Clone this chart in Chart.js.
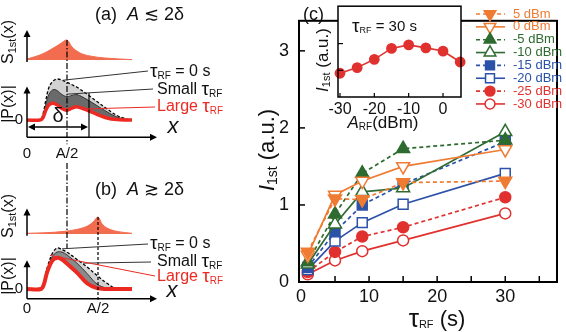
<!DOCTYPE html>
<html>
<head>
<meta charset="utf-8">
<script src="https://cdn.jsdelivr.net/npm/chart.js@4.4.1/dist/chart.umd.min.js"></script>
<style>
  html, body { margin: 0; padding: 0; background: #fff; }
  #wrap { position: relative; width: 566px; height: 332px; overflow: hidden; }
  canvas { position: absolute; }
</style>
</head>
<body>
<div id="wrap">
  <canvas id="left" width="230" height="332" style="left:0;top:0"></canvas>
  <canvas id="main" width="336" height="332" style="left:230px;top:0"></canvas>
  <canvas id="inset" width="170" height="135" style="left:300px;top:0"></canvas>
</div>
<script>
// ---- panel (c) data ----
const tauRF = [1, 5, 9, 15, 30];
const powerLabels = ['5 dBm', '0 dBm', '-5 dBm', '-10 dBm', '-15 dBm', '-20 dBm', '-25 dBm', '-30 dBm'];
const i5dBm   = [0.39, 1.08, 1.07, 1.29, 1.31];
const i0dBm   = [0.35, 1.13, 1.31, 1.50, 1.72];
const im5dBm  = [0.26, 0.88, 1.41, 1.73, 1.84];
const im10dBm = [0.23, 0.75, 1.17, 1.22, 1.95];
const im15dBm = [0.19, 0.65, 1.00, 1.27, 1.82];
const im20dBm = [0.16, 0.53, 0.77, 1.01, 1.41];
const im25dBm = [0.13, 0.39, 0.59, 0.71, 1.10];
const im30dBm = [0.10, 0.28, 0.40, 0.54, 0.89];
const seriesValues = [i5dBm, i0dBm, im5dBm, im10dBm, im15dBm, im20dBm, im25dBm, im30dBm];
const xTickValues = [0, 10, 20, 30];
const yTickValues = [0, 1, 2, 3];

// inset: I1st at tauRF = 30 s versus RF power
const aRF = [-30, -25, -20, -15, -10, -5, 0, 5];
const insetTickValues = [-30, -20, -10, 0];
const insetValues = aRF.map((a, i) => seriesValues[seriesValues.length - 1 - i][tauRF.length - 1]);

// ---- schematic (a): A <~ 2 delta ----
const halfA_a = 4, delta_a = 6.2;
const sX_a   = [0, 1.3, 2.3, 3.3, 4, 4.5, 5.3, 6.3, 7.8, 10.5];
const s1st_a = [0.05, 0.25, 0.5, 0.8, 1, 0.65, 0.35, 0.2, 0.1, 0.02];
const pX_a    = [0, 1.3, 1.6, 1.9, 2.2, 2.6, 3.0, 3.5, 4.0, 4.5, 5.0, 6.0, 7.0, 8.0, 9.0, 10.0, 10.5];
const tau0_a  = [0, 0, 0.15, 0.5, 0.8, 0.95, 1.0, 0.97, 0.92, 0.86, 0.8, 0.63, 0.45, 0.27, 0.11, 0.02, 0];
const small_a = [0, 0, 0.1, 0.4, 0.63, 0.74, 0.72, 0.62, 0.57, 0.6, 0.62, 0.5, 0.35, 0.2, 0.07, 0.01, 0];
const large_a = [0, 0, 0.06, 0.25, 0.37, 0.41, 0.37, 0.28, 0.24, 0.29, 0.32, 0.24, 0.14, 0.05, 0.01, 0, 0];

// ---- schematic (b): A >~ 2 delta ----
const halfA_b = 7.1;
const sX_b   = [0, 2, 3.5, 5, 6, 6.6, 7.1, 7.5, 8, 9, 10.5];
const s1st_b = [0.04, 0.08, 0.14, 0.27, 0.45, 0.7, 1, 0.6, 0.35, 0.15, 0.04];
const pX_b    = [0, 1.4, 1.7, 2.0, 2.5, 3.0, 3.5, 4.0, 5.0, 6.0, 7.0, 8.0, 9.0, 10.5];
const tau0_b  = [0, 0, 0.2, 0.5, 0.85, 1.0, 0.96, 0.9, 0.72, 0.54, 0.33, 0.14, 0, 0];
const small_b = [0, 0, 0.15, 0.45, 0.78, 0.9, 0.9, 0.83, 0.63, 0.38, 0.12, 0.02, 0, 0];
const large_b = [0, 0, 0.12, 0.4, 0.68, 0.76, 0.72, 0.62, 0.4, 0.14, 0.02, 0, 0, 0];

// ---- styles ----
const FONT = '"Liberation Sans", Arial, Helvetica, sans-serif';
const ORANGE = '#ef7b33', GREEN = '#2e6b30', BLUE = '#2b51a9', RED = '#e1312f';
const SALMON = '#f26c50', PRED = '#ec2a22';
const seriesColor  = [ORANGE, ORANGE, GREEN, GREEN, BLUE, BLUE, RED, RED];
const seriesDashed = [true, false, true, false, true, false, true, false];
const seriesFilled = [true, false, true, false, true, false, true, false];
const seriesMarker = ['triangle', 'triangle', 'triangle', 'triangle', 'rect', 'rect', 'circle', 'circle'];
const seriesRot    = [180, 180, 0, 0, 0, 0, 0, 0];
const seriesRadius = [7.5, 7.5, 7.5, 7.5, 7, 7, 5.5, 5.5];

function f(size, style) { return (style ? style + ' ' : '') + size + 'px ' + FONT; }

// draws a run of text pieces (sub/superscripts) in one go
function rich(ctx, parts, x, y, align, rot, color) {
  ctx.save();
  ctx.translate(x, y);
  if (rot) ctx.rotate(rot);
  let w = 0;
  parts.forEach(p => { ctx.font = p.f; p.w = ctx.measureText(p.t).width; w += p.w; });
  let cx = align === 'center' ? -w / 2 : (align === 'right' ? -w : 0);
  ctx.textBaseline = 'middle';
  ctx.textAlign = 'left';
  parts.forEach(p => {
    ctx.font = p.f;
    ctx.fillStyle = p.c || color || '#111';
    ctx.fillText(p.t, cx, p.dy || 0);
    cx += p.w;
  });
  ctx.restore();
}

function line(ctx, x1, y1, x2, y2, color, width, dash) {
  ctx.save();
  ctx.strokeStyle = color; ctx.lineWidth = width;
  ctx.setLineDash(dash || []);
  ctx.beginPath(); ctx.moveTo(x1, y1); ctx.lineTo(x2, y2); ctx.stroke();
  ctx.restore();
}

function arrowHead(ctx, x, y, dir) {
  // dir: 'up' | 'right' | 'left'
  const L = 7, H = 3.5;
  ctx.save();
  ctx.fillStyle = '#000';
  ctx.beginPath();
  if (dir === 'up') { ctx.moveTo(x, y); ctx.lineTo(x - H, y + L); ctx.lineTo(x + H, y + L); }
  else if (dir === 'right') { ctx.moveTo(x, y); ctx.lineTo(x - L, y - H); ctx.lineTo(x - L, y + H); }
  else { ctx.moveTo(x, y); ctx.lineTo(x + L, y - H); ctx.lineTo(x + L, y + H); }
  ctx.closePath(); ctx.fill();
  ctx.restore();
}

// y range so that value 0 sits at zeroPx and value 1 is unitPx above it
function band(zeroPx, unitPx, h) {
  return { min: -(h - zeroPx) / unitPx, max: zeroPx / unitPx };
}

function pts(xs, ys) { return xs.map((x, i) => ({ x: x, y: ys[i] })); }

// ================= left schematic =================
const leftDecor = {
  id: 'leftDecor',
  afterDraw(chart) {
    const ctx = chart.ctx;
    const X = v => chart.scales.x.getPixelForValue(v);
    const Y = (id, v) => chart.scales[id].getPixelForValue(v);
    const x0 = X(0), xEnd = X(13);
    const tauSub = (size) => [{ t: 'τ', f: f(size + 3) }, { t: 'RF', f: f(size - 6), dy: 4 }];

    // ---- (a) ----
    rich(ctx, [{ t: '(a)  ', f: f(18) }, { t: 'A', f: f(18, 'italic') }, { t: ' ≲ 2δ', f: f(18) }], 95, 15, 'left');
    line(ctx, x0, Y('ySa', -0.1), x0, Y('ySa', 1.4), '#000', 1.5);
    arrowHead(ctx, x0, Y('ySa', 1.5), 'up');
    rich(ctx, [{ t: 'S', f: f(16) }, { t: '1st', f: f(11), dy: 4 }, { t: '(x)', f: f(16) }], 9, 42, 'center', -Math.PI / 2);

    const axA = Y('yPa', -0.42);
    line(ctx, x0, axA, x0, Y('yPa', 0.72), '#000', 1.5);
    arrowHead(ctx, x0, Y('yPa', 0.82), 'up');
    line(ctx, x0, axA, xEnd - 4, axA, '#000', 1.5);
    arrowHead(ctx, xEnd, axA, 'right');
    rich(ctx, [{ t: '|P(x)|', f: f(16) }], 9, 104, 'center', -Math.PI / 2);
    rich(ctx, [{ t: '0', f: f(15) }], 19, Y('yPa', 0), 'center');
    rich(ctx, [{ t: '0', f: f(15) }], x0, 154, 'center');
    rich(ctx, [{ t: 'A/2', f: f(15) }], X(halfA_a), 154, 'center');
    rich(ctx, [{ t: 'x', f: f(22, 'italic') }], 173, 127, 'center');

    // dash-dot line through A/2 of (a), running down into (b)
    line(ctx, X(halfA_a), Y('ySa', 1), X(halfA_a), axA + 7, '#000', 1.2, [6, 2, 1.5, 2]);
    line(ctx, X(halfA_a), 163, X(halfA_a), Y('yPb', 1), '#000', 1.2, [6, 2, 1.5, 2]);

    // delta marker
    line(ctx, X(delta_a), Y('yPa', 0.66), X(delta_a), axA, '#000', 1.2);
    const yd = Y('yPa', -0.17);
    line(ctx, x0 + 4, yd, X(delta_a) - 4, yd, '#000', 1.5);
    arrowHead(ctx, x0 + 1, yd, 'left');
    arrowHead(ctx, X(delta_a) - 1, yd, 'right');
    rich(ctx, [{ t: 'δ', f: f(20) }], (x0 + X(delta_a)) / 2, 116, 'center');

    // leader lines and labels
    line(ctx, X(3.6), Y('yPa', 0.97), 148, 71, '#333', 1);
    line(ctx, X(4.0), Y('yPa', 0.63), 153, 89, '#333', 1);
    line(ctx, X(5.8), Y('yPa', 0.27), 155, 107, PRED, 1);
    rich(ctx, tauSub(16).concat([{ t: ' = 0 s', f: f(16) }]), 150, 72, 'left');
    rich(ctx, [{ t: 'Small ', f: f(16) }].concat(tauSub(16)), 157, 90, 'left');
    rich(ctx, [{ t: 'Large ', f: f(16) }].concat(tauSub(16)), 157, 107, 'left', 0, PRED);

    // ---- (b) ----
    rich(ctx, [{ t: '(b)  ', f: f(18) }, { t: 'A', f: f(18, 'italic') }, { t: ' ≳ 2δ', f: f(18) }], 95, 190, 'left');
    line(ctx, x0, Y('ySb', -0.1), x0, Y('ySb', 1.4), '#000', 1.5);
    arrowHead(ctx, x0, Y('ySb', 1.5), 'up');
    rich(ctx, [{ t: 'S', f: f(16) }, { t: '1st', f: f(11), dy: 4 }, { t: '(x)', f: f(16) }], 9, 216, 'center', -Math.PI / 2);

    const axB = Y('yPb', -0.24);
    line(ctx, x0, axB, x0, Y('yPb', 0.6), '#000', 1.5);
    arrowHead(ctx, x0, Y('yPb', 0.7), 'up');
    line(ctx, x0, axB, xEnd - 4, axB, '#000', 1.5);
    arrowHead(ctx, xEnd, axB, 'right');
    rich(ctx, [{ t: '|P(x)|', f: f(16) }], 9, 276, 'center', -Math.PI / 2);
    rich(ctx, [{ t: '0', f: f(15) }], 19, Y('yPb', 0), 'center');
    rich(ctx, [{ t: '0', f: f(15) }], x0, 309, 'center');
    rich(ctx, [{ t: 'A/2', f: f(15) }], X(halfA_b), 309, 'center');
    rich(ctx, [{ t: 'x', f: f(22, 'italic') }], 172, 291, 'center');

    line(ctx, X(halfA_b), Y('ySb', 1), X(halfA_b), axB + 1, '#000', 1.2, [3, 2]);

    line(ctx, X(3.5), Y('yPb', 0.98), 148, 244, '#333', 1);
    line(ctx, X(5.6), Y('yPb', 0.63), 151, 262, '#333', 1);
    line(ctx, X(2.3), Y('yPb', 0.82), 155, 276, PRED, 1);
    rich(ctx, tauSub(16).concat([{ t: ' = 0 s', f: f(16) }]), 150, 244, 'left');
    rich(ctx, [{ t: 'Small ', f: f(16) }].concat(tauSub(16)), 157, 262, 'left');
    rich(ctx, [{ t: 'Large ', f: f(16) }].concat(tauSub(16)), 157, 277, 'left', 0, PRED);
  }
};

const H = 332;
new Chart(document.getElementById('left'), {
  type: 'line',
  data: {
    datasets: [
      { data: pts(sX_a, s1st_a), yAxisID: 'ySa', borderColor: SALMON, backgroundColor: SALMON, borderWidth: 1, fill: 'origin', order: 3 },
      { data: pts(pX_a, tau0_a), yAxisID: 'yPa', borderColor: '#000', borderWidth: 1.3, borderDash: [3, 2], backgroundColor: '#d2d2d2', fill: '+1', order: 2 },
      { data: pts(pX_a, small_a), yAxisID: 'yPa', borderColor: '#333', borderWidth: 1, backgroundColor: '#6a6a6a', fill: '+1', order: 1 },
      { data: pts(pX_a, large_a), yAxisID: 'yPa', borderColor: PRED, borderWidth: 3.5, fill: false, order: 0 },
      { data: pts(sX_b, s1st_b), yAxisID: 'ySb', borderColor: SALMON, backgroundColor: SALMON, borderWidth: 1, fill: 'origin', order: 3 },
      { data: pts(pX_b, tau0_b), yAxisID: 'yPb', borderColor: '#000', borderWidth: 1.3, borderDash: [3, 2], backgroundColor: '#d2d2d2', fill: '+1', order: 2 },
      { data: pts(pX_b, small_b), yAxisID: 'yPb', borderColor: '#333', borderWidth: 1, backgroundColor: '#8a8a8a', fill: '+1', order: 1 },
      { data: pts(pX_b, large_b), yAxisID: 'yPb', borderColor: PRED, borderWidth: 4, fill: false, order: 0 }
    ]
  },
  options: {
    responsive: false, animation: false, events: [],
    layout: { padding: { left: 27, right: 73, top: 0, bottom: 0 } },
    elements: { point: { radius: 0 }, line: { tension: 0.35, capBezierPoints: true } },
    plugins: { legend: { display: false }, tooltip: { enabled: false } },
    scales: {
      x: { type: 'linear', min: 0, max: 13, display: false },
      ySa: Object.assign({ type: 'linear', display: false }, band(60, 20, H)),
      yPa: Object.assign({ type: 'linear', display: false }, band(120, 41, H)),
      ySb: Object.assign({ type: 'linear', display: false }, band(234, 17, H)),
      yPb: Object.assign({ type: 'linear', display: false }, band(289, 41, H))
    }
  },
  plugins: [leftDecor]
});

// ================= panel (c) =================
const mainDecor = {
  id: 'mainDecor',
  afterDraw(chart) {
    const ctx = chart.ctx, a = chart.chartArea;
    const sx = chart.scales.x, sy = chart.scales.y;
    // frame
    ctx.save();
    ctx.strokeStyle = '#000'; ctx.lineWidth = 2;
    ctx.strokeRect(a.left, a.top, a.right - a.left, a.bottom - a.top);
    ctx.restore();
    // inward ticks
    for (let v = 5; v <= 35; v += 5) {
      const px = sx.getPixelForValue(v);
      line(ctx, px, a.bottom, px, a.bottom - 6, '#000', 1.5);
    }
    yTickValues.slice(1).forEach(v => {
      const py = sy.getPixelForValue(v);
      line(ctx, a.left, py, a.left + 6, py, '#000', 1.5);
    });
    // axis titles
    rich(ctx, [{ t: 'I', f: f(22, 'italic') }, { t: '1st', f: f(14), dy: 5 }, { t: ' (a.u.)', f: f(22) }], 38, 150, 'center', -Math.PI / 2);
    rich(ctx, [{ t: 'τ', f: f(26) }, { t: 'RF', f: f(11), dy: 5 }, { t: ' (s)', f: f(22) }], 207, 320, 'center');
    rich(ctx, [{ t: '(c)', f: f(18) }], 73, 15, 'left');

    // legend
    chart.data.datasets.forEach((ds, i) => {
      const y = 14 + i * 12.85;
      const lx1 = 246, lx2 = 275, mx = 260;
      line(ctx, lx1, y, lx2, y, ds.borderColor, 1.6, seriesDashed[i] ? [4, 3] : []);
      ctx.save();
      ctx.fillStyle = seriesFilled[i] ? ds.borderColor : '#fff';
      ctx.strokeStyle = ds.borderColor; ctx.lineWidth = 1.5;
      Chart.helpers.drawPoint(ctx, { pointStyle: seriesMarker[i], rotation: seriesRot[i], radius: seriesRadius[i] * 0.9, borderWidth: 1.5 }, mx, y);
      ctx.restore();
      rich(ctx, [{ t: ds.label, f: f(13) }], 283, y, 'left', 0, ds.borderColor);
    });
  }
};

new Chart(document.getElementById('main'), {
  type: 'line',
  data: {
    datasets: powerLabels.map((lab, i) => ({
      label: lab,
      data: pts(tauRF, seriesValues[i]),
      borderColor: seriesColor[i],
      backgroundColor: seriesColor[i],
      borderWidth: 1.7,
      borderDash: seriesDashed[i] ? [4, 3] : [],
      pointStyle: seriesMarker[i],
      pointRotation: seriesRot[i],
      pointRadius: seriesRadius[i],
      pointBackgroundColor: seriesFilled[i] ? seriesColor[i] : '#fff',
      pointBorderColor: seriesColor[i],
      pointBorderWidth: 1.5,
      tension: 0,
      fill: false,
      clip: false
    }))
  },
  options: {
    responsive: false, animation: false, events: [],
    layout: { padding: { top: 1, right: 3 } },
    plugins: { legend: { display: false }, tooltip: { enabled: false } },
    scales: {
      x: {
        type: 'linear', min: -0.29, max: 37.6,
        afterBuildTicks: s => { s.ticks = xTickValues.map(v => ({ value: v })); },
        afterFit: s => { s.height = 50; },
        grid: { display: false, drawTicks: false }, border: { display: false },
        ticks: { font: { size: 18, family: FONT }, color: '#111', padding: 4, maxRotation: 0 }
      },
      y: {
        type: 'linear', min: 0, max: 3.39,
        afterBuildTicks: s => { s.ticks = yTickValues.map(v => ({ value: v })); },
        afterFit: s => { s.width = 69; },
        grid: { display: false, drawTicks: false }, border: { display: false },
        ticks: { font: { size: 18, family: FONT }, color: '#111', padding: 10 }
      }
    }
  },
  plugins: [mainDecor]
});

// ================= inset =================
const insetDecor = {
  id: 'insetDecor',
  beforeDatasetsDraw(chart) {
    const ctx = chart.ctx, a = chart.chartArea;
    ctx.save(); ctx.fillStyle = '#fff';
    ctx.fillRect(a.left, a.top, a.right - a.left, a.bottom - a.top);
    ctx.restore();
  },
  afterDraw(chart) {
    const ctx = chart.ctx, a = chart.chartArea;
    const sx = chart.scales.x, sy = chart.scales.y;
    ctx.save();
    ctx.strokeStyle = '#000'; ctx.lineWidth = 1.5;
    ctx.strokeRect(a.left, a.top, a.right - a.left, a.bottom - a.top);
    ctx.restore();
    insetTickValues.forEach(v => {
      const px = sx.getPixelForValue(v);
      line(ctx, px, a.bottom, px, a.bottom - 4, '#000', 1.2);
    });
    [1, 2].forEach(v => {
      const py = sy.getPixelForValue(v);
      line(ctx, a.left, py, a.left + 5, py, '#000', 1.2);
    });
    rich(ctx, [{ t: 'τ', f: f(19) }, { t: 'RF', f: f(9), dy: 4 }, { t: ' = 30 s', f: f(15) }], 52, 27, 'left');
    rich(ctx, [{ t: 'I', f: f(17, 'italic') }, { t: '1st', f: f(11), dy: 4 }, { t: ' (a.u.)', f: f(17) }], 23, 60, 'center', -Math.PI / 2);
    rich(ctx, [{ t: 'A', f: f(17, 'italic') }, { t: 'RF', f: f(10), dy: 4 }, { t: '(dBm)', f: f(17) }], 83, 123, 'center');
  }
};

new Chart(document.getElementById('inset'), {
  type: 'line',
  data: {
    datasets: [{
      data: pts(aRF, insetValues),
      borderColor: RED, backgroundColor: RED, borderWidth: 1.6,
      pointRadius: 4.6, pointBackgroundColor: RED, pointBorderColor: RED,
      tension: 0, fill: false, clip: false
    }]
  },
  options: {
    responsive: false, animation: false, events: [],
    layout: { padding: { top: 5, right: 9 } },
    plugins: { legend: { display: false }, tooltip: { enabled: false } },
    scales: {
      x: {
        type: 'linear', min: -30.58, max: 5.24,
        afterBuildTicks: s => { s.ticks = insetTickValues.map(v => ({ value: v })); },
        afterFit: s => { s.height = 38; },
        grid: { display: false, drawTicks: false }, border: { display: false },
        ticks: { font: { size: 16, family: FONT }, color: '#111', padding: 3, maxRotation: 0 }
      },
      y: {
        type: 'linear', min: 0, max: 3.4,
        afterFit: s => { s.width = 38; },
        grid: { display: false, drawTicks: false }, border: { display: false },
        ticks: { display: false }
      }
    }
  },
  plugins: [insetDecor]
});
</script>
</body>
</html>
